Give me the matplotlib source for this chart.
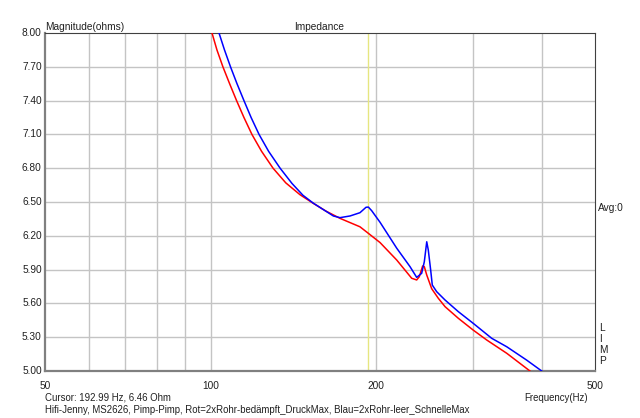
import matplotlib
matplotlib.use("Agg")
import matplotlib.pyplot as plt
from matplotlib.ticker import NullLocator

plt.rcParams['font.family'] = ['Liberation Sans', 'DejaVu Sans']

# rot = 2xRohr bedaempft (DruckMax)
red_f = [100.6, 102.7, 105.3, 108.3, 111.5, 115.0, 118.9, 123.8, 129.9, 137.0,
         145.4, 153.5, 162.0, 171.9, 186.9, 193.0, 203.3, 218.0, 232.1, 237.0, 239.6,
         243.0, 244.7, 247.2, 252.4, 259.5, 266.9, 282.1, 300.3, 317.8, 345.6, 380.8]
red_z = [8.00, 7.85, 7.70, 7.55, 7.40, 7.25, 7.10, 6.95, 6.80, 6.67,
         6.565, 6.49, 6.42, 6.355, 6.28, 6.227, 6.14, 5.985, 5.823, 5.808, 5.837,
         5.932, 5.926, 5.852, 5.73, 5.645, 5.571, 5.468, 5.363, 5.275, 5.157, 5.00]

# blau = 2xRohr leer (SchnelleMax)
blue_f = [103.6, 106.0, 108.7, 111.7, 115.0, 118.5, 122.5, 127.5, 133.8, 140.6,
          147.2, 153.7, 167.2, 171.9, 179.3, 186.9, 191.7, 193.6, 196.3, 203.3,
          218.0, 230.5, 237.0, 242.0, 244.7, 247.2, 248.8, 251.3, 253.0, 257.7,
          266.9, 282.1, 300.3, 324.5, 345.6, 375.5, 400.0]
blue_z = [8.00, 7.85, 7.70, 7.55, 7.40, 7.25, 7.10, 6.95, 6.80, 6.665,
          6.56, 6.49, 6.376, 6.361, 6.376, 6.405, 6.453, 6.455, 6.423, 6.32,
          6.09, 5.926, 5.831, 5.867, 5.97, 6.147, 6.074, 5.896, 5.763, 5.704,
          5.63, 5.527, 5.423, 5.29, 5.215, 5.097, 5.00]

y_ticks = [5.00, 5.30, 5.60, 5.90, 6.20, 6.50, 6.80, 7.10, 7.40, 7.70, 8.00]
x_grid = [60, 70, 80, 90, 100, 200, 300, 400]
x_labels = [50, 100, 200, 500]
cursor_f = 192.99

W, H = 640, 418
fig = plt.figure(figsize=(W / 100, H / 100), dpi=100)
ax = fig.add_axes([45 / W, 1 - 371 / H, 550 / W, 338 / H])

ax.set_xscale('log')
ax.set_xlim(50, 500)
ax.set_ylim(5.0, 8.0)
ax.xaxis.set_major_locator(NullLocator())
ax.xaxis.set_minor_locator(NullLocator())
ax.yaxis.set_major_locator(NullLocator())

for f in x_grid:
    ax.axvline(f, color='#c4c4c4', lw=1.0, zorder=1)
for v in y_ticks[1:-1]:
    ax.axhline(v, color='#c4c4c4', lw=1.0, zorder=1)
ax.axvline(cursor_f, color='#e6e680', lw=1.0, zorder=2)

ax.plot(red_f, red_z, color='#ff0000', lw=1.1, zorder=3)
ax.plot(blue_f, blue_z, color='#0000ff', lw=1.1, zorder=4)

for s in ['left', 'bottom']:
    ax.spines[s].set_color('#808080')
    ax.spines[s].set_linewidth(1.6)
for s in ['top', 'right']:
    ax.spines[s].set_color('#404040')
    ax.spines[s].set_linewidth(0.8)

fs = 7.3
def ftext(x, y, s, size=fs, **kw):
    fig.text(x / W, 1 - y / H, s, fontsize=size, color='#202020', **kw)

for v in y_ticks:
    ax.text(-0.006, (v - 5.0) / 3.0, '%.2f' % v, transform=ax.transAxes,
            ha='right', va='center', fontsize=fs, color='#202020')
for f in x_labels:
    ax.text(f, -0.03, str(f), transform=ax.get_xaxis_transform(),
            ha='center', va='top', fontsize=fs, color='#202020')

ftext(45, 30, 'Magnitude(ohms)', ha='left', va='baseline')
ftext(319, 30, 'Impedance', ha='center', va='baseline')
ftext(598, 208, 'Avg:0', ha='left', va='center')
for i, ch in enumerate('LIMP'):
    ftext(599, 328 + i * 11, ch, ha='left', va='center')
ftext(588, 398, 'Frequency(Hz)', size=6.9, ha='right', va='center')
ftext(45, 398, 'Cursor: 192.99 Hz, 6.46 Ohm', size=6.9, ha='left', va='center')
ftext(45, 410, 'Hifi-Jenny, MS2626, Pimp-Pimp, Rot=2xRohr-bedämpft_DruckMax, '
      'Blau=2xRohr-leer_SchnelleMax', size=6.9, ha='left', va='center')

fig.savefig('out.png', dpi=100)
